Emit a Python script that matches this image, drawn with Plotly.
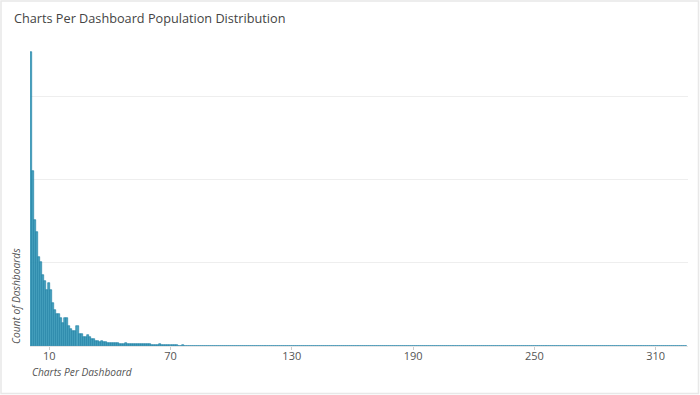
import plotly.graph_objects as go

# Charts per dashboard (1..) and count of dashboards
head_counts = [1770, 1056, 756, 684, 534, 504, 426, 390, 336, 378,
               336, 258, 216, 192, 192, 168, 138, 168, 168, 120,
               102, 90, 90, 120, 72, 72, 54, 54, 66, 54,
               42, 42, 30, 30, 24, 30, 24, 24, 20, 18,
               18, 18, 18, 18, 15, 15, 15, 18, 12, 12,
               12, 12, 12, 15, 10, 10, 10, 10, 10, 12,
               8, 8, 8, 8, 10, 6, 6, 6, 5, 6,
               5, 6, 8, 3, 3, 4, 2, 3, 3, 2,
               3, 2, 3, 2, 2, 3, 2, 2, 2, 2]
mid_counts = [2, 2, 1, 2, 2, 1, 2, 1, 1, 2,
              1, 2, 1, 1, 2, 1, 1, 2, 1, 1,
              1, 2, 1, 1, 1, 1, 2, 1, 1, 1,
              1, 1, 1, 2, 1, 1, 1, 1, 1, 1]
tail_counts = [1, 0, 1, 1, 0, 1, 0, 1, 1, 0,
               1, 0, 0, 1, 0, 1, 0, 0, 1, 0,
               1, 0, 1, 0, 0, 1, 0, 0, 1, 0,
               0, 1, 0, 0, 1, 0, 0, 0, 1, 0,
               0, 1, 0, 0, 0, 1, 0, 0, 0, 1,
               0, 0, 1, 0, 0, 0, 0, 1, 0, 0,
               0, 1, 0, 0, 0, 0, 1, 0, 0, 0,
               0, 0, 1, 0, 0, 0, 0, 0, 1, 0,
               0, 0, 0, 0, 0, 1, 0, 0, 0, 0,
               0, 0, 0, 0, 0, 0, 1, 0, 0, 0,
               0, 0, 0, 0, 0, 0, 0, 0, 0, 1,
               0, 0, 0, 0, 0, 0, 0, 0, 0, 0,
               0, 0, 0, 0, 0, 0, 0, 1, 0, 0,
               0, 0, 0, 0, 0, 0, 0, 0, 0, 0,
               0, 0, 0, 0, 0, 0, 0, 0, 0, 0,
               0, 0, 0, 0, 0, 0, 0, 0, 0, 0,
               0, 0, 0, 0, 0, 0, 0, 0, 0, 0,
               0, 0, 0, 0, 0, 0, 0, 0, 0, 0,
               0, 0, 0, 0, 0, 1, 0, 0, 0, 0,
               0, 0, 0, 0, 0]
counts = head_counts + mid_counts + tail_counts
charts_per_dashboard = list(range(1, len(counts) + 1))
tick_vals = [10, 70, 130, 190, 250, 310]

fig = go.Figure()
fig.add_trace(go.Bar(
    x=charts_per_dashboard, y=counts,
    marker=dict(color="rgba(60,155,186,0.92)",
                line=dict(color="#1a7ca3", width=0.6)),
    hoverinfo="x+y",
))

fig.update_layout(
    width=700, height=395,
    margin=dict(l=30, r=12, t=45, b=49),
    paper_bgcolor="white", plot_bgcolor="white",
    bargap=0,
    showlegend=False,
    font=dict(family="Open Sans", color="#555"),
    title=dict(text="Charts Per Dashboard Population Distribution",
               x=14 / 700, xanchor="left", xref="container",
               y=1 - 19 / 395, yanchor="middle", yref="container",
               font=dict(family="Open Sans", size=12.7, color="#444")),
    xaxis=dict(range=[0.5, 326], tickvals=tick_vals,
               ticks="outside", ticklen=3, tickcolor="#ccc",
               ticklabelstandoff=-3,
               tickfont=dict(size=11, color="#555"),
               showgrid=False, showline=True, linecolor="#e6e6e6",
               zeroline=False),
    yaxis=dict(range=[0, 1813], dtick=500, showticklabels=False,
               showgrid=True, gridcolor="#eeeeee", zeroline=False,
               ticks=""),
    annotations=[
        dict(text="<i>Charts Per Dashboard</i>", xref="paper", yref="paper",
             x=0, y=0, xanchor="left", yanchor="top", yshift=-17,
             showarrow=False, font=dict(size=10.2, color="#555")),
        dict(text="<i>Count of Dashboards</i>", xref="paper", yref="paper",
             x=0, y=0, xanchor="right", yanchor="bottom", xshift=-5,
             textangle=-90, showarrow=False,
             font=dict(size=10.2, color="#555")),
    ],
    shapes=[dict(type="rect", xref="paper", yref="paper",
                 x0=(1 - 30) / 658, x1=(698.5 - 30) / 658,
                 y0=(346 - 393.5) / 301, y1=(346 - 1) / 301,
                 line=dict(color="#e8e8e8", width=1.5),
                 fillcolor="rgba(0,0,0,0)", layer="below")],
)

fig.write_html("out.html", config={"displayModeBar": False},
               post_script="document.body.style.margin='0';document.body.style.padding='0';")
